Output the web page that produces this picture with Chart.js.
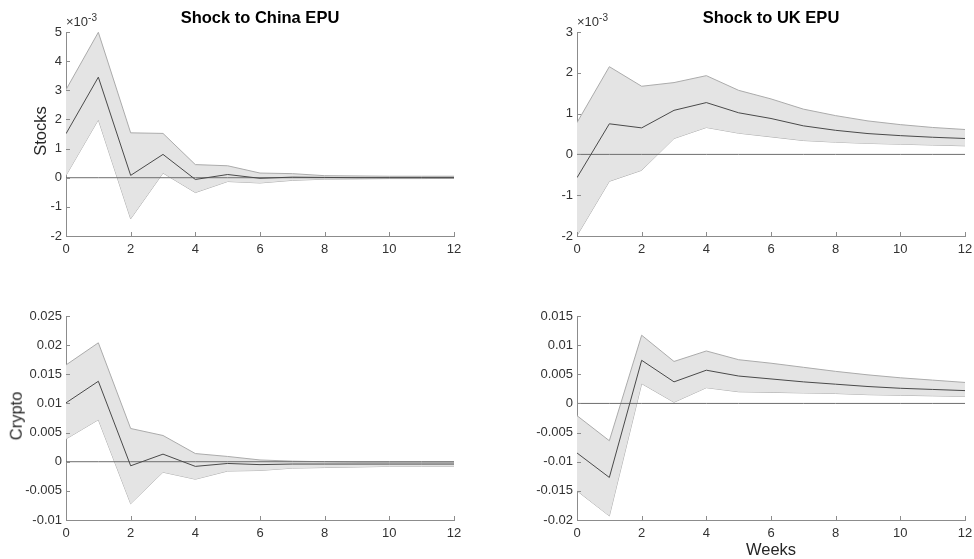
<!DOCTYPE html>
<html>
<head>
<meta charset="utf-8">
<script src="https://cdn.jsdelivr.net/npm/chart.js@4.4.1/dist/chart.umd.min.js"></script>
<style>
  body { margin: 0; background: #fff; width: 974px; height: 559px; position: relative; overflow: hidden;
         font-family: "Liberation Sans", Arial, sans-serif; color: #262626; }
  canvas { position: absolute; }
  .txt { position: absolute; white-space: nowrap; line-height: 1; }
  .titulo { font-weight: bold; font-size: 16.5px; color: #000; transform: translateX(-50%); }
  .ylab { font-size: 16.5px; transform: translate(-50%, -50%) rotate(-90deg); }
  .expo { font-size: 13px; color: #333; }
  .expo sup { font-size: 10px; }
</style>
</head>
<body>
<canvas id="g1" width="487" height="280" style="left:0;top:0"></canvas>
<canvas id="g2" width="487" height="280" style="left:487px;top:0"></canvas>
<canvas id="g3" width="487" height="279" style="left:0;top:280px"></canvas>
<canvas id="g4" width="487" height="279" style="left:487px;top:280px"></canvas>

<div class="txt titulo" style="left:260px;top:9px">Shock to China EPU</div>
<div class="txt titulo" style="left:771px;top:9px">Shock to UK EPU</div>
<div class="txt ylab" style="left:40px;top:131px">Stocks</div>
<div class="txt ylab" style="left:16px;top:416px">Crypto</div>
<div class="txt" style="left:771px;top:541px;font-size:16.5px;transform:translateX(-50%)">Weeks</div>
<div class="txt expo" style="left:66px;top:13px">&times;10<sup>-3</sup></div>
<div class="txt expo" style="left:577px;top:13px">&times;10<sup>-3</sup></div>

<script>
// semanas del horizonte
const semanas = [0, 1, 2, 3, 4, 5, 6, 7, 8, 9, 10, 11, 12];

// Stocks, shock China EPU (x10^-3)
const stocksChinaMedia = [1.51, 3.45, 0.08, 0.80, -0.06, 0.11, -0.02, 0.02, 0.01, 0.0, 0.0, 0.0, 0.0];
const stocksChinaSup   = [3.02, 4.99, 1.54, 1.52, 0.45, 0.41, 0.16, 0.14, 0.07, 0.06, 0.05, 0.05, 0.05];
const stocksChinaInf   = [0.08, 1.99, -1.41, 0.16, -0.51, -0.13, -0.18, -0.09, -0.05, -0.04, -0.03, -0.03, -0.02];

// Stocks, shock UK EPU (x10^-3)
const stocksUKMedia = [-0.57, 0.75, 0.65, 1.08, 1.27, 1.02, 0.88, 0.70, 0.59, 0.51, 0.46, 0.42, 0.39];
const stocksUKSup   = [0.78, 2.15, 1.67, 1.76, 1.93, 1.57, 1.36, 1.11, 0.95, 0.82, 0.73, 0.66, 0.61];
const stocksUKInf   = [-1.99, -0.66, -0.39, 0.39, 0.66, 0.52, 0.43, 0.34, 0.30, 0.27, 0.25, 0.23, 0.21];

// Crypto, shock China EPU
const cryptoChinaMedia = [0.0101, 0.0138, -0.0007, 0.0013, -0.0008, -0.0003, -0.0005, -0.0004, -0.0004, -0.0004, -0.0004, -0.0004, -0.0004];
const cryptoChinaSup   = [0.0166, 0.0204, 0.0057, 0.0045, 0.0014, 0.0009, 0.0003, 0.0001, 0.0, -0.0001, -0.0001, -0.0001, -0.0001];
const cryptoChinaInf   = [0.0039, 0.0072, -0.0072, -0.0018, -0.0030, -0.0016, -0.0015, -0.0011, -0.0010, -0.0009, -0.0008, -0.0008, -0.0008];

// Crypto, shock UK EPU
const cryptoUKMedia = [-0.0085, -0.0127, 0.0074, 0.0037, 0.0057, 0.0047, 0.0042, 0.0037, 0.0033, 0.0029, 0.0026, 0.0024, 0.0022];
const cryptoUKSup   = [-0.0021, -0.0064, 0.0117, 0.0072, 0.0090, 0.0075, 0.0069, 0.0062, 0.0055, 0.0049, 0.0044, 0.0040, 0.0036];
const cryptoUKInf   = [-0.0150, -0.0193, 0.0034, 0.0002, 0.0027, 0.0020, 0.0019, 0.0018, 0.0017, 0.0015, 0.0014, 0.0013, 0.0012];

const ceros = semanas.map(() => 0);

// marcas de los ejes hacia adentro, como en MATLAB
const marcasAdentro = {
    id: 'marcasAdentro',
    afterDraw(chart) {
        const ctx = chart.ctx;
        const x = chart.scales.x, y = chart.scales.y;
        ctx.save();
        ctx.strokeStyle = '#8c8c8c';
        ctx.lineWidth = 1;
        ctx.beginPath();
        x.ticks.forEach(t => {
            const px = Math.round(x.getPixelForValue(t.value)) + 0.5;
            ctx.moveTo(px, y.bottom);
            ctx.lineTo(px, y.bottom - 4);
        });
        y.ticks.forEach(t => {
            const py = Math.round(y.getPixelForValue(t.value)) + 0.5;
            ctx.moveTo(x.left, py);
            ctx.lineTo(x.left + 4, py);
        });
        ctx.stroke();
        ctx.restore();
    }
};

function formatoTick(v) {
    const r = parseFloat(v.toFixed(4));
    return r === 0 ? '0' : String(r);
}

function crearGrafico(id, media, sup, inf, ymin, ymax, paso, caja) {
    const ctx = document.getElementById(id).getContext('2d');
    return new Chart(ctx, {
        type: 'line',
        data: {
            labels: semanas,
            datasets: [
                { data: media, borderColor: '#4a4a4a', borderWidth: 1, pointRadius: 0, fill: false, order: 0 },
                { data: ceros, borderColor: '#6e6e6e', borderWidth: 1, pointRadius: 0, fill: false, order: 1 },
                { data: inf, borderColor: '#ababab', borderWidth: 1, pointRadius: 0, fill: false, order: 3 },
                { data: sup, borderColor: '#ababab', borderWidth: 1, pointRadius: 0, order: 2,
                  fill: { target: 2 }, backgroundColor: '#e4e4e4' }
            ]
        },
        options: {
            responsive: false,
            animation: false,
            events: [],
            layout: { padding: { top: caja.top, right: caja.right, left: 0, bottom: 0 } },
            plugins: { legend: { display: false }, tooltip: { enabled: false } },
            scales: {
                x: {
                    type: 'linear', min: 0, max: 12,
                    grid: { display: false, drawTicks: false },
                    border: { display: true, color: '#8c8c8c', width: 1 },
                    ticks: { stepSize: 2, padding: 6, color: '#333', maxRotation: 0,
                             font: { family: '"Liberation Sans", Arial', size: 13 } },
                    afterFit: s => { s.height = caja.bottom; s.paddingLeft = 0; s.paddingRight = 0; }
                },
                y: {
                    min: ymin, max: ymax,
                    grid: { display: false, drawTicks: false },
                    border: { display: true, color: '#8c8c8c', width: 1 },
                    ticks: { stepSize: paso, padding: 4, color: '#333', callback: formatoTick,
                             font: { family: '"Liberation Sans", Arial', size: 13 } },
                    afterFit: s => { s.width = caja.left; s.paddingTop = 0; s.paddingBottom = 0; }
                }
            }
        },
        plugins: [marcasAdentro]
    });
}

crearGrafico('g1', stocksChinaMedia, stocksChinaSup, stocksChinaInf, -2, 5, 1,
    { top: 32, right: 33, bottom: 44, left: 66 });
crearGrafico('g2', stocksUKMedia, stocksUKSup, stocksUKInf, -2, 3, 1,
    { top: 32, right: 9, bottom: 44, left: 90 });
crearGrafico('g3', cryptoChinaMedia, cryptoChinaSup, cryptoChinaInf, -0.01, 0.025, 0.005,
    { top: 36, right: 33, bottom: 39, left: 66 });
crearGrafico('g4', cryptoUKMedia, cryptoUKSup, cryptoUKInf, -0.02, 0.015, 0.005,
    { top: 36, right: 9, bottom: 39, left: 90 });
</script>
</body>
</html>
